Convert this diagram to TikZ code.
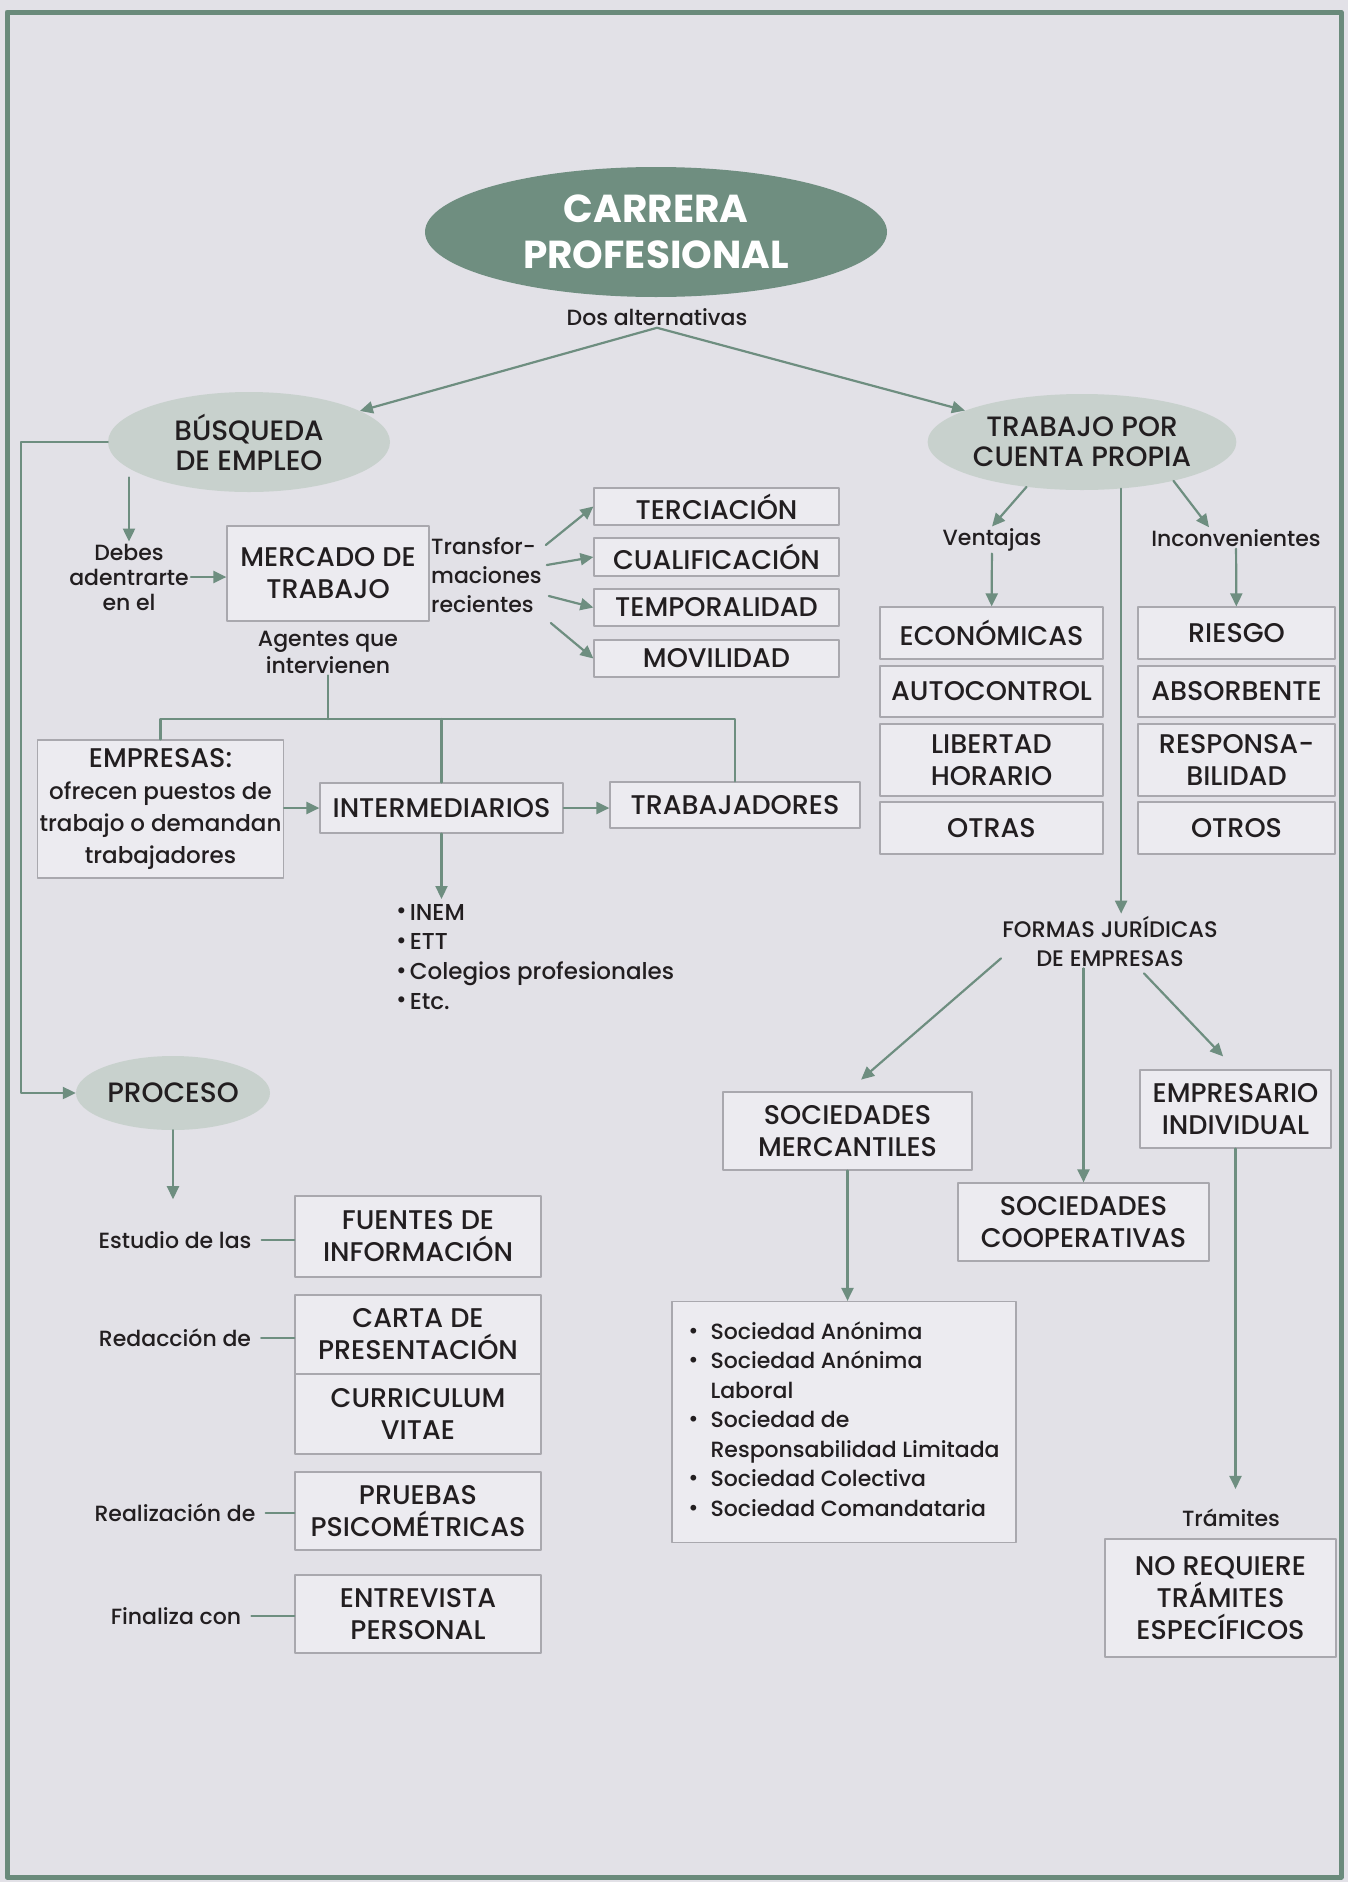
\documentclass[tikz,border=0pt]{standalone}
\usepackage{fontspec}
\setmainfont{Poppins}[UprightFont=* Medium, BoldFont=* Bold]
\usetikzlibrary{arrows.meta,shapes.geometric}
\definecolor{pagebg}{HTML}{E2E1E7}
\definecolor{textfg}{HTML}{221E20}
\definecolor{edge}{HTML}{6E8E80}
\definecolor{framecol}{HTML}{6A8A7B}
\definecolor{oval}{HTML}{6F8E80}
\definecolor{ovallight}{HTML}{C8D1CD}
\definecolor{boxfill}{HTML}{ECEBF0}
\definecolor{boxborder}{HTML}{A9A8AE}
\newcommand{\caja}[6]{%
  \node[caja, minimum width={#4-#2}, minimum height={#5-#3}]
    (#1) at ({(#2+#4)/2},{(#3+#5)/2}) {#6};
}
\newcommand{\chico}{\fontsize{23}{29}\selectfont}
\newcommand{\punto}{\raisebox{0.1ex}{\textbullet}}

\begin{document}
\begin{tikzpicture}[
  x=1pt,
  y=-1pt,
  font=\fontsize{22}{26}\selectfont,
  text=textfg,
  line cap=round,
  line join=round,
  >={Triangle[length=13pt,width=12pt]},
  flecha/.style={->, draw=edge, line width=2.2},
  linea/.style={draw=edge, line width=2.2},
  caja/.style={draw=boxborder, fill=boxfill, line width=1.2, inner sep=2pt,
    align=center, font=\fontsize{27}{32}\selectfont},
  ovalo/.style={ellipse, fill=ovallight, inner sep=0pt, align=center,
    font=\fontsize{28}{30}\selectfont},
  etiqueta/.style={inner sep=2pt, align=center}
]
  \fill[pagebg] (0,0) rectangle (1348,1882);
  \draw[framecol, line width=5] (7,12) rectangle (1341,1877);

  \node[ovalo, fill=oval, text=white, minimum width=462, minimum height=130,
    font=\bfseries\fontsize{39}{46}\selectfont] (carrera) at (656,232) {CARRERA\\PROFESIONAL};
  \node[etiqueta] (dos) at (657,317) {Dos alternativas};
  \node[ovalo, minimum width=282, minimum height=100] (busq) at (249,442) {BÚSQUEDA\\DE EMPLEO};
  \node[ovalo, minimum width=282, minimum height=96] (cuenta) at (1082,442) {TRABAJO POR\\CUENTA PROPIA};
  \draw[flecha] (dos.south) -- (busq);
  \draw[flecha] (dos.south) -- (cuenta);

  \node[etiqueta, font=\fontsize{22}{25}\selectfont] (debes) at (129,577) {Debes\\adentrarte\\en el};
  \caja{mercado}{227}{526}{429}{621}{MERCADO DE\\TRABAJO}
  \draw[flecha] (busq.south west -| debes.north) -- (debes.north);
  \draw[flecha] (debes.east) -- (debes.east -| mercado.west);

  \node[etiqueta, anchor=west, align=left, font=\fontsize{22}{29}\selectfont] (transf) at (429,575) {Transfor-\\maciones\\recientes};
  \caja{terc}{594}{488}{839}{525}{TERCIACIÓN}
  \caja{cualif}{594}{538}{839}{576}{CUALIFICACIÓN}
  \caja{tempo}{594}{589}{839}{626}{TEMPORALIDAD}
  \caja{movil}{594}{640}{839}{677}{MOVILIDAD}
  \draw[flecha] ([shift={(2,-30)}]transf.east) -- (terc.west);
  \draw[flecha] ([shift={(3,-10)}]transf.east) -- (cualif.west);
  \draw[flecha] ([shift={(5,21)}]transf.east) -- (tempo.west);
  \draw[flecha] ([shift={(7,48)}]transf.east) -- (movil.west);

  \node[etiqueta, font=\fontsize{22}{27}\selectfont] (agentes) at (328,652) {Agentes que\\intervienen};
  \caja{empresas}{43}{740}{278}{878}{EMPRESAS:\\{\chico ofrecen puestos de}\\{\chico trabajo o demandan}\\{\chico trabajadores}}
  \caja{inter}{320}{783}{563}{833}{INTERMEDIARIOS}
  \caja{trab}{610}{782}{860}{828}{TRABAJADORES}
  \coordinate (rama) at (328,719);
  \draw[linea] (agentes.south) -- (rama);
  \draw[linea] (empresas.north) |- (rama) -| (trab.north);
  \draw[linea] (rama -| inter.north) -- (inter.north);
  \draw[flecha] (empresas.east |- inter.west) -- (inter.west);
  \draw[flecha] (inter.east) -- (inter.east -| trab.west);
  \node[anchor=north west, inner sep=0pt, font=\fontsize{23}{29.7}\selectfont] (agentlist) at (396,899)
    {\begin{tabular}{@{}l@{\hspace{3pt}}l@{}}
      \punto & INEM\\
      \punto & ETT\\
      \punto & Colegios profesionales\\
      \punto & Etc.
    \end{tabular}};
  \draw[flecha] (inter.south) -- (inter.south |- agentlist.north);

  \coordinate (margen) at (21,442);
  \node[ovalo, minimum width=194, minimum height=74] (proc) at (173,1093) {PROCESO};
  \draw[flecha] (busq.west) -- (margen) |- (proc.west);
  \node[etiqueta] (estudio) at (175,1240) {Estudio de las};
  \node[etiqueta] (redac) at (175,1338) {Redacción de};
  \node[etiqueta] (realiz) at (175,1513) {Realización de};
  \node[etiqueta] (finaliza) at (176,1616) {Finaliza con};
  \caja{fuentes}{295}{1196}{541}{1277}{FUENTES DE\\INFORMACIÓN}
  \caja{carta}{295}{1295}{541}{1374}{CARTA DE\\PRESENTACIÓN}
  \caja{cv}{295}{1374}{541}{1454}{CURRICULUM\\VITAE}
  \caja{pruebas}{295}{1472}{541}{1550}{PRUEBAS\\PSICOMÉTRICAS}
  \caja{entrev}{295}{1575}{541}{1653}{ENTREVISTA\\PERSONAL}
  \draw[flecha, shorten >=30pt] (proc.south) -- (proc.south |- estudio.north);
  \draw[linea, shorten <=8pt] (estudio.east) -- (estudio.east -| fuentes.west);
  \draw[linea, shorten <=8pt] (redac.east) -- (redac.east -| carta.west);
  \draw[linea, shorten <=8pt] (realiz.east) -- (realiz.east -| pruebas.west);
  \draw[linea, shorten <=8pt] (finaliza.east) -- (finaliza.east -| entrev.west);

  \node[etiqueta] (vent) at (992,540) {Ventajas};
  \node[etiqueta] (incon) at (1236,538) {Inconvenientes};
  \draw[flecha] (cuenta.219) -- (vent.north);
  \draw[flecha] (cuenta.-23) -- ([xshift=-27pt]incon.north);
  \caja{econ}{880}{607}{1103}{659}{ECONÓMICAS}
  \caja{auto}{880}{666}{1103}{717}{AUTOCONTROL}
  \caja{liber}{880}{724}{1103}{796}{LIBERTAD\\HORARIO}
  \caja{otras}{880}{802}{1103}{854}{OTRAS}
  \caja{riesgo}{1138}{607}{1335}{659}{RIESGO}
  \caja{absor}{1138}{666}{1335}{717}{ABSORBENTE}
  \caja{respon}{1138}{724}{1335}{796}{RESPONSA-\\BILIDAD}
  \caja{otros}{1138}{802}{1335}{854}{OTROS}
  \draw[flecha] (vent) -- (econ);
  \draw[flecha] (incon) -- (riesgo);

  \node[etiqueta, font=\fontsize{22.5}{29}\selectfont] (formas) at (1110,941) {FORMAS JURÍDICAS\\DE EMPRESAS};
  \draw[flecha] (cuenta.-50) -- (cuenta.-50 |- formas.north);
  \caja{merc}{723}{1092}{972}{1170}{SOCIEDADES\\MERCANTILES}
  \caja{coop}{958}{1183}{1209}{1261}{SOCIEDADES\\COOPERATIVAS}
  \caja{empre}{1140}{1070}{1331}{1148}{EMPRESARIO\\INDIVIDUAL}
  \draw[flecha, shorten >=18pt] ([shift={(-109,-10)}]formas.south) -- (merc.north);
  \draw[flecha] (formas.south -| coop.north) -- (coop.north);
  \draw[flecha, shorten >=18pt] ([shift={(34,5)}]formas.south) -- (empre.north);
  \node[caja, minimum width=344, minimum height=241, font=\fontsize{22}{29.5}\selectfont] (socs) at (844,1422)
    {\begin{tabular}{@{}l@{\hspace{12pt}}l@{}}
      \punto & Sociedad Anónima\\
      \punto & Sociedad Anónima\\
             & Laboral\\
      \punto & Sociedad de\\
             & Responsabilidad Limitada\\
      \punto & Sociedad Colectiva\\
      \punto & Sociedad Comandataria
    \end{tabular}};
  \draw[flecha] (merc.south) -- (merc.south |- socs.north);
  \node[etiqueta] (tramites) at (1231,1518) {Trámites};
  \draw[flecha, shorten >=18pt] (empre.south) -- (empre.south |- tramites.north);
  \caja{noreq}{1105}{1539}{1336}{1657}{NO REQUIERE\\TRÁMITES\\ESPECÍFICOS}
\end{tikzpicture}
\end{document}
